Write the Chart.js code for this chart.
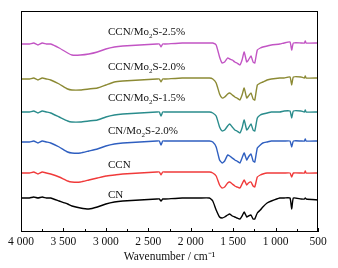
<!DOCTYPE html>
<html>
<head>
<meta charset="utf-8">
<script src="https://cdn.jsdelivr.net/npm/chart.js@4/dist/chart.umd.min.js"></script>
<style>
  html, body { margin: 0; padding: 0; background: #fff; }
  #wrap { width: 338px; height: 268px; }
</style>
</head>
<body>
<div id="wrap"><canvas id="chart1"></canvas></div>
<script>
// wavenumbers (cm-1), shared by all spectra
const wavenumbers = [4000,3900,3850,3800,3750,3700,3650,3550,3450,3400,3300,3200,3100,3000,2900,2800,2600,2400,2370,2350,2330,2300,2100,1900,1780,1740,1700,1660,1630,1600,1565,1540,1510,1480,1455,1420,1395,1370,1340,1320,1290,1265,1245,1215,1180,1150,1100,1050,950,900,830,810,790,700,660,650,640,500];

// transmittance, arbitrary units (stacked)
const ccnMo25 = [188,188,189,187,189,188,188,184,179,177,177,178,180,183,185,186,187,188,188,185,188,188,189,189,189,189,187,175,169,170,174,173,172,170,169,167,172,180,170,172,176,170,169,182,184,185,186,187,188,189,190,182,189,189,189,191,189,189];
const ccnMo20 = [153,153,154,152,154,153,152,148,143,142,142,143,144,147,150,151,152,153,153,150,153,153,154,154,154,153,149,138,134,135,138,139,137,135,134,132,137,144,134,136,139,133,132,147,149,150,152,153,154,154,155,147,155,155,154,156,154,154];
const ccnMo15 = [120,120,121,119,121,120,119,115,111,110,110,111,112,115,117,118,119,120,120,116,120,120,120,120,120,119,116,105,101,102,106,108,105,102,101,99,104,112,102,104,108,102,101,114,117,118,119,120,120,121,121,114,121,121,120,122,120,120];
const cnMo20 = [90,90,91,89,91,90,89,85,80,79,79,81,83,86,88,89,90,91,91,87,91,91,91,91,91,90,85,72,69,71,77,76,74,72,71,69,74,79,72,75,78,71,70,84,87,89,90,91,91,91,91,85,91,91,91,93,91,91];
const ccn = [59,59,60,58,60,59,58,55,51,50,50,52,54,56,57,58,59,60,60,57,60,60,60,60,60,59,56,47,44,45,49,50,48,46,45,44,48,52,47,49,50,46,45,55,57,58,59,59,59,59,59,55,59,59,59,61,59,59];
const cn = [34,34,35,34,35,34,34,31,28,26,24,23,25,28,30,31,32,33,33,31,33,33,34,34,34,31,22,15,14,15,17,18,16,15,14,13,16,20,15,16,17,13,13,19,22,25,29,31,34,34,34,23,34,33,33,34,33,32];

const seriesNames = ['CCN/Mo2S-2.5%','CCN/Mo2S-2.0%','CCN/Mo2S-1.5%','CN/Mo2S-2.0%','CCN','CN'];
const seriesData = [ccnMo25, ccnMo20, ccnMo15, cnMo20, ccn, cn];
const seriesColors = ['#c254c4','#8c8a34','#2a8c8c','#2f5fc0','#f03a3a','#000000'];

// label anchor: wavenumber of left edge and baseline level
const labelX = 2975;
const labelY = [197,162,131,98,64,34];

const xTicks = {min: 500, max: 4000, step: 250, major: 500};

const serif = '"Liberation Serif", "Times New Roman", serif';

function fmtWn(v) {
  if (v % xTicks.major !== 0) return '';
  if (v >= 1000) return Math.floor(v / 1000) + ' ' + String(v % 1000).padStart(3, '0');
  return String(v);
}

const frame = {
  id: 'frame',
  afterDraw(chart) {
    const ctx = chart.ctx, a = chart.chartArea, xs = chart.scales.x, ys = chart.scales.y;
    ctx.save();
    ctx.strokeStyle = '#000';
    ctx.lineWidth = 1;
    ctx.strokeRect(a.left + 0.5, a.top + 0.5, a.right - a.left - 1, a.bottom - a.top - 1);
    // inward ticks on bottom axis
    ctx.beginPath();
    xs.ticks.forEach(t => {
      const px = Math.round(xs.getPixelForValue(t.value)) + 0.5;
      const len = t.value % xTicks.major === 0 ? 4 : 3;
      ctx.moveTo(px, a.bottom);
      ctx.lineTo(px, a.bottom - len);
    });
    ctx.stroke();
    // sample labels with subscript
    ctx.fillStyle = '#111';
    ctx.textBaseline = 'alphabetic';
    seriesNames.forEach((name, i) => {
      let x = xs.getPixelForValue(labelX);
      const y = ys.getPixelForValue(labelY[i]);
      const parts = name.split('Mo2');
      ctx.font = '11px ' + serif;
      if (parts.length === 1) { ctx.fillText(name, x, y); return; }
      const head = parts[0] + 'Mo';
      ctx.fillText(head, x, y);
      x += ctx.measureText(head).width;
      ctx.font = '7px ' + serif;
      ctx.fillText('2', x, y + 2.5);
      x += ctx.measureText('2').width;
      ctx.font = '11px ' + serif;
      ctx.fillText(parts[1], x, y);
    });
    ctx.restore();
  }
};

const datasets = seriesData.map((vals, i) => ({
  label: seriesNames[i],
  data: wavenumbers.map((w, j) => ({x: w, y: vals[j]})),
  borderColor: seriesColors[i],
  backgroundColor: seriesColors[i],
  borderWidth: 1.4,
  pointRadius: 0,
  tension: 0.15,
  fill: false
}));

const config1 = {
  type: 'line',
  data: { datasets: datasets },
  options: {
    responsive: true,
    maintainAspectRatio: false,
    animation: false,
    layout: { padding: { left: 21, right: 20, top: 11, bottom: 0 } },
    plugins: {
      legend: { display: false },
      tooltip: { enabled: false }
    },
    scales: {
      x: {
        type: 'linear',
        reverse: true,
        min: xTicks.min,
        max: xTicks.max,
        afterFit(scale) { scale.height = 36; },
        grid: { display: false, drawTicks: false },
        border: { display: false },
        ticks: {
          stepSize: xTicks.step,
          autoSkip: false,
          maxRotation: 0,
          padding: 3,
          color: '#111',
          font: { family: serif, size: 11.5 },
          callback: v => fmtWn(v)
        },
        title: {
          display: true,
          text: 'Wavenumber / cm\u207B\u00B9',
          color: '#111',
          font: { family: serif, size: 11.5 },
          padding: { top: 0, bottom: 4 }
        }
      },
      y: {
        display: false,
        min: 0,
        max: 221
      }
    }
  },
  plugins: [frame]
};

const chart1 = new Chart(document.getElementById('chart1'), config1);
</script>
</body>
</html>
